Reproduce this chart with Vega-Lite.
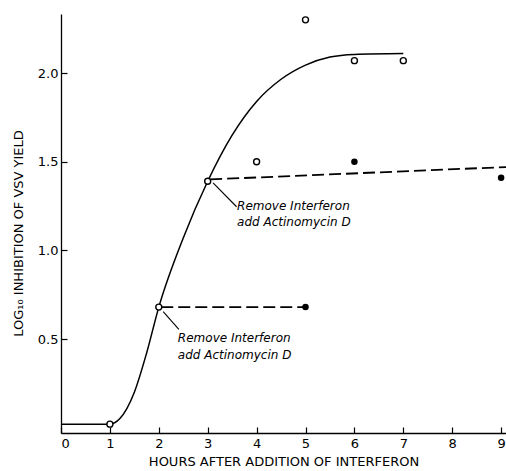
{
  "$schema": "https://vega.github.io/schema/vega-lite/v6.json",
  "width": 445,
  "height": 419,
  "autosize": "none",
  "padding": {"left": 61, "top": 14, "right": 0, "bottom": 38},
  "background": "white",
  "config": {
    "view": {"stroke": null},
    "font": "DejaVu Sans",
    "axis": {
      "grid": false,
      "domainColor": "black",
      "domainWidth": 1.3,
      "tickColor": "black",
      "tickWidth": 1.2,
      "tickSize": -6,
      "labelColor": "black",
      "titleColor": "black",
      "labelFont": "DejaVu Sans",
      "titleFont": "DejaVu Sans",
      "labelFontSize": 13,
      "titleFontSize": 13,
      "titleFontWeight": "normal"
    }
  },
  "datasets": {
    "curve": [
      {"h": 0, "v": 0.02}, {"h": 1, "v": 0.02}, {"h": 1.2, "v": 0.05}, {"h": 1.5, "v": 0.2},
      {"h": 1.75, "v": 0.42}, {"h": 2, "v": 0.68}, {"h": 2.5, "v": 1.07}, {"h": 3, "v": 1.39},
      {"h": 3.5, "v": 1.65}, {"h": 4, "v": 1.84}, {"h": 4.5, "v": 1.965}, {"h": 5, "v": 2.045},
      {"h": 5.5, "v": 2.09}, {"h": 6, "v": 2.105}, {"h": 7, "v": 2.11}
    ],
    "dashed": [
      {"g": "a", "h": 2.05, "v": 0.68}, {"g": "a", "h": 5, "v": 0.68},
      {"g": "b", "h": 3.05, "v": 1.4}, {"g": "b", "h": 9.1, "v": 1.47}
    ],
    "leaders": [
      {"g": "a", "h": 2.09, "v": 0.654}, {"g": "a", "h": 2.41, "v": 0.555},
      {"g": "b", "h": 3.11, "v": 1.38}, {"g": "b", "h": 3.59, "v": 1.246}
    ],
    "open": [
      {"h": 1, "v": 0.02}, {"h": 2, "v": 0.68}, {"h": 3, "v": 1.39}, {"h": 4, "v": 1.5},
      {"h": 5, "v": 2.3}, {"h": 6, "v": 2.07}, {"h": 7, "v": 2.07}
    ],
    "filled": [
      {"h": 5, "v": 0.68}, {"h": 6, "v": 1.5}, {"h": 9, "v": 1.41}
    ],
    "notes": [
      {"h": 2.39, "v": 0.505, "t": "Remove Interferon"},
      {"h": 2.39, "v": 0.41, "t": "add Actinomycin D"},
      {"h": 3.6, "v": 1.25, "t": "Remove Interferon"},
      {"h": 3.6, "v": 1.16, "t": "add Actinomycin D"}
    ]
  },
  "encoding": {
    "x": {
      "field": "h", "type": "quantitative",
      "scale": {"domain": [0, 9.1], "nice": false, "zero": false},
      "axis": {"values": [0,1,2,3,4,5,6,7,8,9], "title": "HOURS AFTER ADDITION OF INTERFERON", "labelPadding": 10, "titlePadding": 5}
    },
    "y": {
      "field": "v", "type": "quantitative",
      "scale": {"domain": [-0.03, 2.333], "nice": false, "zero": false},
      "axis": {"values": [0.5, 1, 1.5, 2], "format": ".1f", "title": "LOG₁₀ INHIBITION OF VSV YIELD", "labelPadding": 9, "titlePadding": 12, "titleY": 219}
    }
  },
  "layer": [
    {"data": {"name": "curve"}, "mark": {"type": "line", "interpolate": "monotone", "color": "black", "strokeWidth": 1.5}},
    {"data": {"name": "dashed"}, "mark": {"type": "line", "color": "black", "strokeWidth": 1.8, "strokeDash": [12, 5]}, "encoding": {"detail": {"field": "g"}}},
    {"data": {"name": "leaders"}, "mark": {"type": "line", "color": "black", "strokeWidth": 1.1}, "encoding": {"detail": {"field": "g"}}},
    {"data": {"name": "open"}, "mark": {"type": "point", "shape": "circle", "filled": false, "fill": "white", "fillOpacity": 1, "stroke": "black", "strokeWidth": 1.4, "size": 36, "opacity": 1}},
    {"data": {"name": "filled"}, "mark": {"type": "point", "shape": "circle", "filled": true, "color": "black", "size": 42, "opacity": 1}},
    {"data": {"name": "notes"}, "mark": {"type": "text", "align": "left", "baseline": "middle", "font": "DejaVu Sans", "fontStyle": "italic", "fontSize": 12, "color": "black"}, "encoding": {"text": {"field": "t"}}}
  ]
}
